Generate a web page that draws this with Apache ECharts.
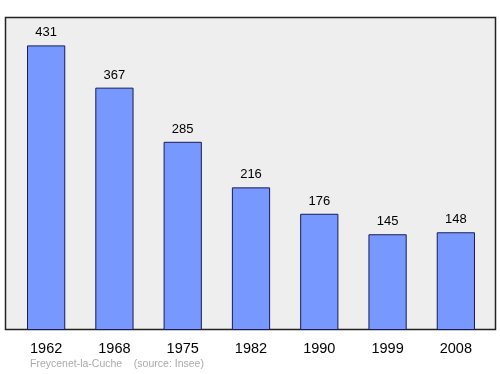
<!DOCTYPE html>
<html><head><meta charset="utf-8">
<script src="https://cdn.jsdelivr.net/npm/echarts@6/dist/echarts.min.js"></script>
<style>html,body{margin:0;padding:0;background:#fff}#c{width:500px;height:374px}</style>
</head><body><div id="c"></div>
<script>
const years = ['1962','1968','1975','1982','1990','1999','2008'];
const population = [431, 367, 285, 216, 176, 145, 148];
const chart = echarts.init(document.getElementById('c'), null, {renderer:'canvas'});
chart.setOption({
  animation:false,
  graphic:[
    {type:'rect', z:-10, shape:{x:5.5,y:17.5,width:490,height:312}, style:{fill:'#eeeeee', stroke:'#222', lineWidth:1.5}},
    {type:'text', left:30, top:359, style:{text:'Freycenet-la-Cuche    (source: Insee)', fill:'#aaaaaa', font:'10.5px "Liberation Sans", Arial, sans-serif'}}
  ],
  grid:{left:12, right:10, top:17, bottom:44},
  xAxis:{type:'category', data:years, axisLine:{show:false}, axisTick:{show:false},
    axisLabel:{color:'#000', fontSize:14.5, fontFamily:'Liberation Sans, Arial, sans-serif', margin:11}},
  yAxis:{type:'value', min:0, max:474, show:false, splitLine:{show:false}},
  series:[{type:'bar', data:population, barWidth:'56%',
    itemStyle:{color:'#7799ff', borderColor:'#1a1a55', borderWidth:1},
    label:{show:true, position:'top', distance:6, color:'#000', fontSize:13, fontFamily:'Liberation Sans, Arial, sans-serif'}}]
});
</script></body></html>
